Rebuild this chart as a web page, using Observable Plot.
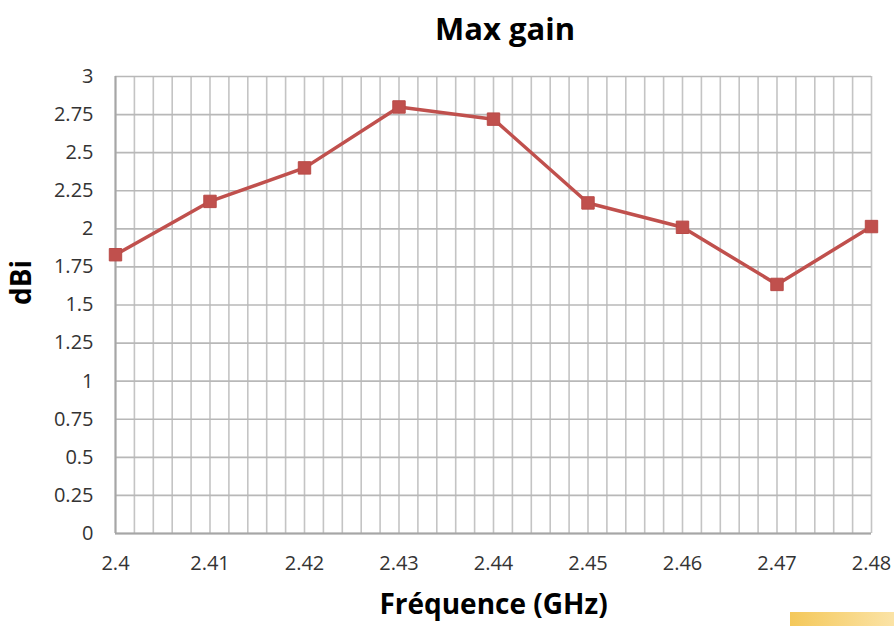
<!DOCTYPE html>
<html>
<head>
<meta charset="utf-8">
<script src="https://cdn.jsdelivr.net/npm/d3@7"></script>
<script src="https://cdn.jsdelivr.net/npm/@observablehq/plot@0.6"></script>
<style>
  body { margin: 0; background: #fff; font-family: "Open Sans", "Liberation Sans", sans-serif; }
  #wrap { position: relative; width: 894px; height: 626px; overflow: hidden; }
  #title { height: 56px; line-height: 56px; font-weight: bold; font-size: 31px; color: #000; text-align: center; padding-left: 116px; box-sizing: border-box; }
  #deco { position: absolute; left: 790px; top: 612px; width: 104px; height: 14px; background: linear-gradient(90deg, #f4c85a, #fbe3a6); }
</style>
</head>
<body>
<div id="wrap">
  <div id="title">Max gain</div>
  <div id="chart"></div>
  <div id="deco"></div>
</div>
<script>
const freqs = [2.40, 2.41, 2.42, 2.43, 2.44, 2.45, 2.46, 2.47, 2.48];
const gains = [1.83, 2.18, 2.40, 2.80, 2.72, 2.17, 2.01, 1.635, 2.015];
const xTicks = [2.40, 2.41, 2.42, 2.43, 2.44, 2.45, 2.46, 2.47, 2.48];
const yTicks = [0, 0.25, 0.5, 0.75, 1, 1.25, 1.5, 1.75, 2, 2.25, 2.5, 2.75, 3];
const xMinorGrid = d3.range(0, 41).map(i => 2.4 + i * 0.002);

const data = freqs.map((f, i) => ({f, g: gains[i]}));
const fmt = d => String(+d.toFixed(2));

const chart = Plot.plot({
  width: 894,
  height: 570,
  marginTop: 20,
  marginBottom: 93,
  marginLeft: 115,
  marginRight: 23,
  style: { fontFamily: "'Open Sans', 'Liberation Sans', sans-serif", background: "#fff" },
  x: { domain: [2.4, 2.48], axis: null },
  y: { domain: [0, 3], axis: null },
  marks: [
    Plot.ruleX(xMinorGrid, { stroke: "#c4c4c4", strokeWidth: 1.6 }),
    Plot.ruleY(yTicks, { stroke: "#b8b8b8", strokeWidth: 1.6 }),
    Plot.ruleX([2.4], { stroke: "#a6a6a6", strokeWidth: 2 }),
    Plot.ruleY([0], { stroke: "#a6a6a6", strokeWidth: 2 }),
    Plot.text(xTicks, { x: d => d, frameAnchor: "bottom", lineAnchor: "middle", dy: 30, text: fmt, fontSize: 20, fill: "#333" }),
    Plot.text(yTicks, { y: d => d, frameAnchor: "left", lineAnchor: "middle", dx: -22, textAnchor: "end", text: fmt, fontSize: 20, fill: "#333" }),
    Plot.line(data, { x: "f", y: "g", stroke: "#c0504d", strokeWidth: 3.5 }),
    Plot.dot(data, { x: "f", y: "g", symbol: "square", fill: "#c0504d", stroke: "#b94a47", strokeWidth: 1, r: 7 }),
    Plot.text(["Fréquence (GHz)"], { frameAnchor: "bottom", lineAnchor: "middle", dy: 72, fontSize: 28, fontWeight: "bold", fill: "#000" }),
    Plot.text(["dBi"], { frameAnchor: "left", dx: -93, rotate: -90, fontSize: 28, fontWeight: "bold", fill: "#000" })
  ]
});
document.getElementById("chart").append(chart);
</script>
</body>
</html>
